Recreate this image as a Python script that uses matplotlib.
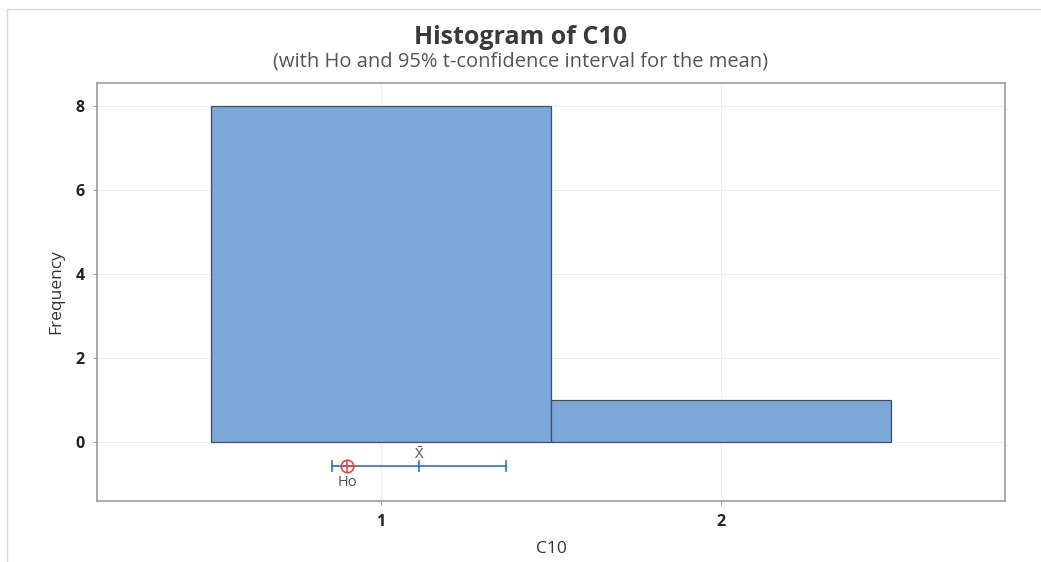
import matplotlib.pyplot as plt
from matplotlib.lines import Line2D

# histogram bins of C10
bin_edges = [0.5, 1.5, 2.5]
counts = [8, 1]

# Ho and 95% t-confidence interval for the mean
ho = 0.9
xbar = 1.112
ci_low, ci_high = 0.856, 1.368
ci_y = -0.57

x_ticks = [1, 2]
y_ticks = [0, 2, 4, 6, 8]

plt.rcParams['font.family'] = ['Open Sans', 'DejaVu Sans']
plt.rcParams['mathtext.fontset'] = 'custom'
plt.rcParams['mathtext.rm'] = 'Open Sans'

fig = plt.figure(figsize=(10.41, 5.62), dpi=100)
ax = fig.add_axes([97 / 1041, 1 - 501 / 562, (1005 - 97) / 1041, (501 - 83) / 562])

# light frame around the picture
fig.add_artist(Line2D([7 / 1041, 7 / 1041], [0, 1 - 9 / 562], color='#d8d8d8', lw=1))
fig.add_artist(Line2D([7 / 1041, 1], [1 - 9 / 562, 1 - 9 / 562], color='#d8d8d8', lw=1))

widths = [bin_edges[i + 1] - bin_edges[i] for i in range(len(counts))]
ax.bar(bin_edges[:-1], counts, width=widths, align='edge', color='#7ba7d9',
       edgecolor='#3f4f60', linewidth=0.9, zorder=2)

# confidence interval
ax.plot([ci_low, ci_high], [ci_y, ci_y], color='#2a6fbf', lw=1.2, zorder=3)
for xv in [ci_low, ci_high, xbar]:
    ax.plot([xv, xv], [ci_y - 0.12, ci_y + 0.12], color='#2a6fbf', lw=1.2, zorder=3)
ax.plot(ho, ci_y, marker='o', ms=9, mfc='none', mec='#e0484c', mew=1.2, zorder=4)
ax.plot(ho, ci_y, marker='+', ms=9, mec='#e0484c', mew=1.2, zorder=4)
ax.text(ho, ci_y - 0.2, 'Ho', ha='center', va='top', fontsize=10.5, color='#505050')
ax.text(xbar, ci_y + 0.08, r'$\bar{\mathrm{X}}$', ha='center', va='bottom',
        fontsize=10.5, color='#505050')

ax.set_xlim(0.165, 2.835)
ax.set_ylim(-1.4, 8.55)
ax.set_xticks(x_ticks)
ax.set_yticks(y_ticks)
ax.tick_params(labelsize=11.5, color='#a0a0a0', length=3, pad=6)
for lab in ax.get_xticklabels() + ax.get_yticklabels():
    lab.set_fontweight('bold')
    lab.set_color('#222222')
ax.grid(True, color='#f0f0f0', lw=0.8, zorder=0)
for s in ax.spines.values():
    s.set_color('#9a9a9a')
    s.set_linewidth(1.2)

ax.set_xlabel('C10', fontsize=12.5, color='#333333', labelpad=8)
ax.set_ylabel('Frequency', fontsize=12.5, color='#333333', labelpad=8)

fig.text(0.5, 1 - 37 / 562, 'Histogram of C10', ha='center', va='center',
         fontsize=18, fontweight='bold', color='#3a3a3a')
fig.text(0.5, 1 - 61 / 562, '(with Ho and 95% t-confidence interval for the mean)',
         ha='center', va='center', fontsize=14.5, color='#555555')

fig.savefig('out.png', dpi=100)
